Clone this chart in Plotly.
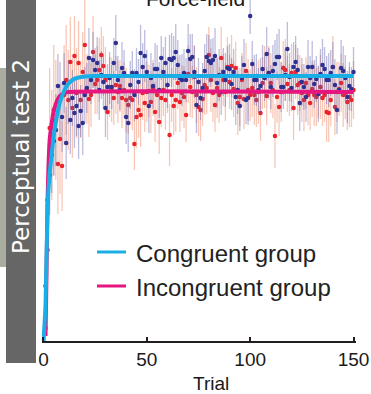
import plotly.graph_objects as go

trials = list(range(1, 151))

congruent = [
    5.5, 14.1, 16.6, 18.6, 20.0, 21.1, 25.5, 24.1, 22.4, 25.8,
    19.8, 24.9, 22.1, 24.3, 22.8, 23.5, 21.5, 23.0, 21.8, 24.6,
    25.3, 28.3, 26.1, 28.1, 27.1, 27.8, 25.1, 26.6, 25.9, 23.3,
    25.4, 26.3, 25.4, 27.8, 29.8, 26.1, 25.1, 27.3, 26.8, 22.4,
    21.8, 25.6, 26.8, 24.6, 26.8, 25.9, 28.8, 27.4, 28.5, 26.9,
    23.5, 26.3, 25.5, 27.2, 27.2, 25.1, 28.3, 26.9, 27.8, 25.6,
    28.2, 28.1, 28.3, 28.9, 27.6, 26.3, 26.1, 26.8, 26.1, 29.0,
    28.2, 28.4, 26.9, 23.6, 25.9, 24.3, 25.3, 27.0, 28.4, 28.0,
    27.8, 28.1, 28.5, 25.8, 26.6, 24.9, 26.9, 26.1, 27.3, 27.2,
    25.7, 26.9, 24.4, 25.1, 23.5, 26.3, 27.6, 24.1, 24.3, 32.5,
    27.7, 26.1, 26.1, 25.1, 25.5, 27.2, 26.3, 28.7, 26.8, 25.4,
    27.0, 27.7, 28.4, 28.4, 25.4, 25.4, 26.6, 29.2, 26.4, 25.3,
    27.4, 27.9, 27.1, 23.8, 25.9, 25.4, 24.4, 27.4, 26.3, 27.4,
    25.7, 26.2, 24.7, 26.7, 27.6, 27.2, 26.1, 26.1, 26.8, 27.4,
    25.6, 23.1, 25.1, 27.3, 27.0, 26.3, 24.4, 25.5, 25.2, 26.9,
]
congruent_err = [
    3.0, 4.5, 4.0, 3.8, 3.5, 3.6, 3.2, 3.8, 3.5, 3.0,
    3.6, 3.2, 3.4, 2.8, 3.5, 3.0, 3.3, 2.6, 3.2, 2.8,
    2.5, 3.0, 2.4, 2.8, 2.2, 2.6, 3.0, 2.4, 2.7, 2.9,
    2.3, 2.6, 2.2, 2.5, 2.8, 2.4, 2.0, 2.6, 2.3, 2.7,
    2.9, 2.4, 2.2, 2.6, 2.5, 2.3, 2.8, 2.4, 2.6, 2.2,
    2.7, 2.5, 2.3, 2.6, 2.4, 2.8, 2.2, 2.5, 2.6, 2.3,
    2.4, 2.7, 2.2, 2.8, 2.5, 2.3, 2.6, 2.4, 2.2, 2.7,
    2.5, 2.3, 2.6, 2.8, 2.4, 2.2, 2.5, 2.7, 2.3, 2.6,
    2.4, 2.2, 2.8, 2.5, 2.6, 2.3, 2.4, 2.7, 2.2, 2.5,
    2.6, 2.3, 2.8, 2.4, 2.5, 2.2, 2.6, 2.4, 2.7, 1.8,
    2.3, 2.5, 2.6, 2.2, 2.8, 2.4, 2.3, 2.7, 2.5, 2.2,
    2.6, 2.4, 2.3, 2.8, 2.5, 2.2, 2.6, 2.7, 2.4, 2.3,
    2.5, 2.6, 2.2, 2.8, 2.4, 2.3, 2.5, 2.7, 2.2, 2.6,
    2.4, 2.3, 2.8, 2.5, 2.6, 2.2, 2.4, 2.7, 2.3, 2.5,
    2.6, 2.4, 2.2, 2.8, 2.5, 2.3, 2.6, 2.4, 2.2, 2.5,
]

incongruent = [
    1.3, 9.1, 21.3, 19.6, 23.1, 22.1, 17.7, 20.2, 17.5, 24.6,
    26.1, 24.1, 27.9, 23.3, 28.5, 24.8, 27.8, 24.1, 26.9, 29.6,
    25.2, 24.2, 24.6, 28.9, 25.7, 26.1, 27.1, 28.6, 27.5, 26.1,
    22.9, 25.4, 25.1, 24.3, 25.6, 24.9, 25.5, 24.3, 25.1, 24.1,
    23.6, 24.3, 24.1, 19.7, 22.4, 23.1, 22.6, 24.8, 23.8, 24.9,
    25.0, 23.9, 25.3, 22.9, 24.6, 21.9, 24.3, 25.1, 24.1, 25.6,
    20.6, 24.6, 23.5, 24.1, 25.8, 23.9, 24.8, 24.4, 22.6, 26.7,
    25.4, 24.9, 26.4, 24.6, 23.4, 23.1, 24.2, 25.6, 25.3, 28.6,
    26.1, 24.8, 23.6, 25.3, 24.6, 28.3, 26.1, 24.9, 27.4, 25.9,
    27.5, 25.2, 27.3, 23.8, 24.4, 26.1, 24.2, 27.0, 25.1, 24.6,
    25.3, 24.6, 24.1, 24.9, 22.8, 25.8, 26.4, 24.5, 26.8, 25.8,
    25.1, 20.5, 24.4, 23.4, 24.9, 27.3, 27.1, 25.7, 25.1, 26.8,
    23.3, 26.9, 25.6, 25.8, 24.8, 24.1, 25.8, 24.6, 23.8, 25.2,
    24.6, 24.4, 24.9, 25.4, 24.3, 24.6, 22.9, 22.8, 24.1, 27.4,
    23.4, 24.9, 25.2, 25.8, 24.6, 24.8, 23.9, 24.4, 24.1, 25.1,
]
incongruent_err = [
    4.0, 5.5, 6.0, 5.5, 6.5, 6.0, 5.0, 5.5, 4.5, 5.0,
    5.5, 5.0, 4.5, 5.0, 4.0, 4.5, 4.2, 3.8, 4.0, 4.5,
    3.5, 3.8, 3.2, 3.6, 3.0, 3.4, 3.2, 2.8, 3.0, 3.3,
    2.8, 3.0, 3.2, 2.7, 2.9, 3.1, 2.6, 3.0, 2.8, 3.2,
    2.9, 2.7, 3.0, 2.6, 3.1, 2.8, 3.2, 2.7, 2.9, 3.0,
    2.6, 3.1, 2.8, 3.0, 2.7, 3.2, 2.9, 2.6, 3.0, 2.8,
    3.1, 2.7, 2.9, 3.2, 2.6, 3.0, 2.8, 3.1, 2.7, 2.9,
    3.0, 2.6, 3.2, 2.8, 2.9, 3.1, 2.7, 3.0, 2.6, 2.8,
    3.2, 2.9, 2.7, 3.0, 2.8, 3.1, 2.6, 2.9, 3.0, 2.7,
    3.1, 2.8, 2.6, 3.2, 2.9, 2.7, 3.0, 2.8, 3.1, 2.6,
    2.9, 3.0, 2.7, 3.2, 2.8, 2.6, 3.1, 2.9, 2.7, 3.0,
    2.8, 3.2, 2.6, 2.9, 3.0, 2.7, 3.1, 2.8, 2.6, 2.9,
    3.2, 2.7, 3.0, 2.8, 2.9, 3.1, 2.6, 3.0, 2.7, 2.8,
    3.1, 2.9, 2.6, 3.2, 2.8, 2.7, 3.0, 2.9, 2.6, 3.1,
    2.8, 3.0, 2.7, 2.9, 3.2, 2.6, 2.8, 3.0, 2.7, 2.9,
]

# Fitted learning curves
fit_cong_trials = [0, 1, 2, 3, 4, 5, 6, 7, 8, 9, 10, 11, 12, 14, 16, 20, 25, 150]
fit_cong_vals = [0.0, 3.5, 13.5, 16.8, 18.7, 20.6, 21.9, 23.0, 23.9, 24.5, 25.0, 25.4,
                 25.7, 26.1, 26.3, 26.45, 26.5, 26.5]
fit_incong_trials = [1, 2, 3, 4, 5, 6, 7, 8, 10, 12, 150]
fit_incong_vals = [0.5, 14.1, 20.1, 21.8, 23.0, 23.7, 24.2, 24.5, 24.8, 24.9, 24.9]

legend_labels = ["Congruent group", "Incongruent group"]
legend_colors = ["#1aaee6", "#e6157f"]

FONT = "Liberation Sans, Arial, Helvetica, sans-serif"

fig = go.Figure()

fig.add_trace(go.Scatter(
    x=trials, y=incongruent, mode="markers", showlegend=False,
    marker=dict(color="#ee2229", size=4.5),
    error_y=dict(type="data", array=incongruent_err, visible=True,
                 color="rgba(240,130,95,0.45)", thickness=1.3, width=0),
))
fig.add_trace(go.Scatter(
    x=trials, y=congruent, mode="markers", showlegend=False,
    marker=dict(color="#2e3192", size=4.5),
    error_y=dict(type="data", array=congruent_err, visible=True,
                 color="rgba(95,95,175,0.42)", thickness=1.3, width=0),
))
fig.add_trace(go.Scatter(
    x=fit_incong_trials, y=fit_incong_vals, mode="lines", name=legend_labels[1],
    line=dict(color=legend_colors[1], width=4, shape="spline", smoothing=0.6),
    showlegend=False,
))
fig.add_trace(go.Scatter(
    x=fit_cong_trials, y=fit_cong_vals, mode="lines", name=legend_labels[0],
    line=dict(color=legend_colors[0], width=4, shape="spline", smoothing=0.6),
    showlegend=False,
))

# Legend drawn in paper coordinates (plot area: x 42..356 px, y 0..341 px)
def px_x(p):
    return (p - 42) / 314

def px_y(p):
    return (341 - p) / 341

shapes = [
    dict(type="rect", xref="paper", yref="paper",
         x0=px_x(0), x1=px_x(6), y0=px_y(267), y1=px_y(68),
         fillcolor="#a9ad9f", line=dict(width=0), layer="above"),
    dict(type="rect", xref="paper", yref="paper",
         x0=px_x(6), x1=px_x(36), y0=px_y(363), y1=1.0,
         fillcolor="#666666", line=dict(width=0), layer="above"),
]
annotations = [
    dict(text="Perceptual test 2", xref="paper", yref="paper",
         x=px_x(21), y=px_y(157), xanchor="center", yanchor="middle",
         textangle=-90, showarrow=False,
         font=dict(size=23, family="DejaVu Sans, sans-serif", color="white")),
    dict(text="Force-field", xref="paper", yref="paper",
         x=px_x(195), y=px_y(-2), xanchor="center", yanchor="middle",
         showarrow=False, font=dict(size=21, family=FONT, color="#1a1a1a")),
    dict(text="Trial", xref="paper", yref="paper",
         x=px_x(211), y=px_y(384), xanchor="center", yanchor="middle",
         showarrow=False, font=dict(size=19, family=FONT, color="#1a1a1a")),
]
for label, color, row_py in zip(legend_labels, legend_colors, [252, 286]):
    shapes.append(dict(type="line", xref="paper", yref="paper",
                       x0=px_x(97), x1=px_x(126), y0=px_y(row_py), y1=px_y(row_py),
                       line=dict(color=color, width=3), layer="above"))
    annotations.append(dict(text=label, xref="paper", yref="paper",
                            x=px_x(134), y=px_y(row_py + 1), xanchor="left", yanchor="middle",
                            showarrow=False,
                            font=dict(size=24, family=FONT, color="#222222")))

fig.update_layout(
    width=371, height=394,
    margin=dict(l=42, r=15, t=0, b=53),
    paper_bgcolor="white", plot_bgcolor="white",
    font=dict(family=FONT, color="#1a1a1a"),
    showlegend=False,
    xaxis=dict(range=[-0.7, 151.2], showgrid=False, zeroline=False,
               showline=True, linecolor="#231f20", linewidth=2,
               ticks="inside", ticklen=4, tickwidth=2, tickcolor="#231f20",
               tickvals=[0, 50, 100, 150], ticktext=["0", "50", "100", "150"],
               tickfont=dict(size=19, family=FONT, color="#1a1a1a")),
    yaxis=dict(range=[0, 34.1], visible=False),
    shapes=shapes,
    annotations=annotations,
)

fig.write_html("out.html", config={"displayModeBar": False},
               post_script="document.body.style.margin='0px';")
